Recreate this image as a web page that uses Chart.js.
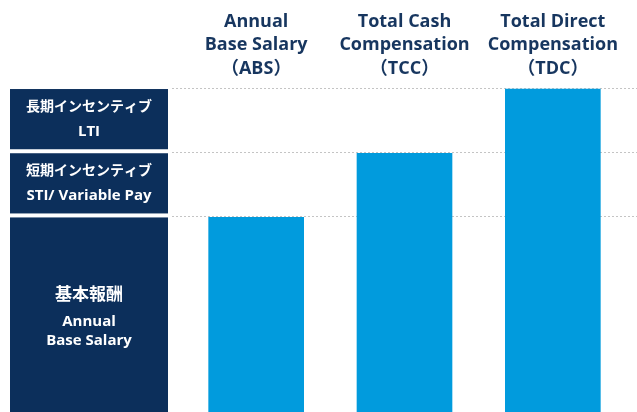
<!DOCTYPE html>
<html>
<head>
<meta charset="utf-8">
<script src="https://cdn.jsdelivr.net/npm/chart.js@4/dist/chart.umd.min.js"></script>
<style>
  html, body { margin: 0; padding: 0; background: #fff; }
  #wrap { width: 637px; height: 412px; }
</style>
</head>
<body>
<div id="wrap"><canvas id="comp" width="637" height="412"></canvas></div>
<script>
// ─── Data ─────────────────────────────────────────────

const categories = [
    ['Annual', 'Base Salary', '（ABS）'],
    ['Total Cash', 'Compensation', '（TCC）'],
    ['Total Direct', 'Compensation', '（TDC）'],
];
// cumulative height of each pay package
const totals = [100, 133, 166];

// stacked components, bottom to top
const layerNames = [
    ['基本報酬', 'Annual', 'Base Salary'],
    ['短期インセンティブ', 'STI/ Variable Pay'],
    ['長期インセンティブ', 'LTI'],
];

// ─── Style ────────────────────────────────────────────

const NAVY = '#0c2f5b';
const HEAD = '#17365f';
const BLUE = '#019bdd';
const FONT = "'Open Sans', 'Noto Sans CJK JP', sans-serif";

// ─── Plugins ──────────────────────────────────────────

const gridPlugin = {
    id: 'dottedGrid',
    beforeDatasetsDraw(chart) {
        const { ctx, scales: { y } } = chart;
        ctx.save();
        ctx.strokeStyle = '#c4c4c4';
        ctx.lineWidth = 1;
        ctx.setLineDash([2, 2]);
        totals.forEach(v => {
            const py = Math.round(y.getPixelForValue(v)) - 0.5;
            ctx.beginPath();
            ctx.moveTo(172, py);
            ctx.lineTo(chart.width, py);
            ctx.stroke();
        });
        ctx.restore();
    },
};

const boxPlugin = {
    id: 'layerBoxes',
    afterDraw(chart) {
        const { ctx, scales: { y } } = chart;
        const bounds = [0, ...totals];
        ctx.save();
        layerNames.forEach((lines, i) => {
            const top = y.getPixelForValue(bounds[i + 1]);
            const bottom = i === 0 ? chart.chartArea.bottom : y.getPixelForValue(bounds[i]) - 4;
            ctx.fillStyle = NAVY;
            ctx.fillRect(10, top, 158, bottom - top);

            const tall = lines.length > 2;
            const lh = [0, tall ? 27 : 25, 19];
            const span = lines.reduce((s, _, k) => s + lh[k], 0);
            let cy = (top + bottom) / 2 - span / 2 + (tall ? 3 : 0);
            ctx.fillStyle = '#fff';
            ctx.textAlign = 'center';
            ctx.textBaseline = 'middle';
            lines.forEach((t, k) => {
                cy += lh[k];
                const size = k === 0 ? (t.length > 4 ? 14 : 17) : 15;
                ctx.font = `bold ${size}px ${FONT}`;
                ctx.fillText(t, 89, cy);
            });
        });
        ctx.restore();
    },
};

// ─── Chart ────────────────────────────────────────────

new Chart(document.getElementById('comp').getContext('2d'), {
    type: 'bar',
    data: {
        labels: categories,
        datasets: [{
            data: totals,
            backgroundColor: BLUE,
            borderWidth: 0,
            barThickness: 95,
        }],
    },
    options: {
        responsive: false,
        animation: false,
        layout: { padding: { left: 182, right: 10, top: 7, bottom: 0 } },
        plugins: { legend: { display: false }, tooltip: { enabled: false } },
        scales: {
            x: {
                position: 'top',
                grid: { display: false, drawTicks: false },
                border: { display: false },
                ticks: {
                    color: HEAD,
                    padding: 3,
                    maxRotation: 0,
                    font: { family: FONT, size: 18, weight: 'bold', lineHeight: 1.3 },
                },
            },
            y: {
                display: false,
                min: 0,
                max: 169,
            },
        },
    },
    plugins: [gridPlugin, boxPlugin],
});
</script>
</body>
</html>
